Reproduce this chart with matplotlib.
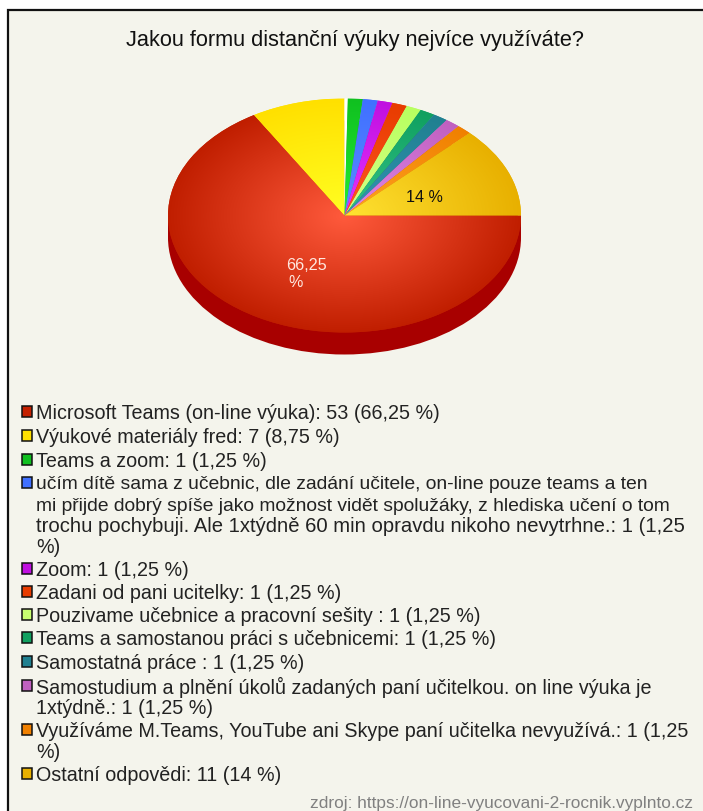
import numpy as np
import matplotlib
matplotlib.use("Agg")
import matplotlib.pyplot as plt
from matplotlib.patches import Wedge, Ellipse, Rectangle
from matplotlib.transforms import Affine2D
from matplotlib.colors import to_rgb

plt.rcParams['font.family'] = ['Liberation Sans', 'DejaVu Sans']

TITLE = "Jakou formu distanční výuky nejvíce využíváte?"
SOURCE = "zdroj: https://on-line-vyucovani-2-rocnik.vyplnto.cz"

# drawn slice shares (%), clockwise from 3 o'clock
slice_names = ["Microsoft Teams", "Výukové materiály", "(mezera)", "Teams a zoom", "učím dítě",
               "Zoom", "Zadani", "Pouzivame", "Teams a samostanou", "Samostatná",
               "Samostudium", "Využíváme", "Ostatní"]
slice_shares = [66.44, 8.56, 0.3, 1.36, 1.36, 1.36, 1.36, 1.36, 1.36, 1.36, 1.36, 1.36, 12.46]
slice_centre = ["#ff5a3c", "#ffff22", "#ffffff", "#22ee33", "#5a8cff", "#e633ff", "#ff5522",
                "#d6ff88", "#33c488", "#3394b4", "#e088e8", "#ffa422", "#ffe232"]
slice_edge = ["#c01e00", "#ffe000", "#ffffff", "#10c020", "#4070ff", "#c010e0", "#e83c00",
              "#b8ff60", "#10a060", "#208090", "#c060c0", "#f08000", "#e8b000"]

legend_colors = ["#c42000", "#ffe000", "#10c020", "#4070ff", "#c010e0", "#e83c00",
                 "#c8ff70", "#10a060", "#208090", "#c060c0", "#f08000", "#e8b000"]
legend_lines = [
    ["Microsoft Teams (on-line výuka): 53 (66,25 %)"],
    ["Výukové materiály fred: 7 (8,75 %)"],
    ["Teams a zoom: 1 (1,25 %)"],
    ["učím dítě sama z učebnic, dle zadání učitele, on-line pouze teams a ten",
     "mi přijde dobrý spíše jako možnost vidět spolužáky, z hlediska učení o tom",
     "trochu pochybuji. Ale 1xtýdně 60 min opravdu nikoho nevytrhne.: 1 (1,25",
     "%)"],
    ["Zoom: 1 (1,25 %)"],
    ["Zadani od pani ucitelky: 1 (1,25 %)"],
    ["Pouzivame učebnice a pracovní sešity : 1 (1,25 %)"],
    ["Teams a samostanou práci s učebnicemi: 1 (1,25 %)"],
    ["Samostatná práce : 1 (1,25 %)"],
    ["Samostudium a plnění úkolů zadaných paní učitelkou. on line výuka je",
     "1xtýdně.: 1 (1,25 %)"],
    ["Využíváme M.Teams, YouTube ani Skype paní učitelka nevyužívá.: 1 (1,25",
     "%)"],
    ["Ostatní odpovědi: 11 (14 %)"],
]

W, H = 703, 812
BG = "#f4f4ec"
CX, CY, RX, RY, DEPTH = 344.5, 216.5, 176.5, 117, 22
LEG_FS = 14.25
LINE_FS = {"učím": 13.85, "mi p": 13.85, "troc": 14.6}

fig = plt.figure(figsize=(W / 100, H / 100), dpi=100, facecolor="white")
ax = fig.add_axes([0, 0, 1, 1])
ax.set_xlim(0, W)
ax.set_ylim(H, 0)
ax.axis("off")

ax.add_patch(Rectangle((7.5, 10.5), W, H, facecolor=BG, edgecolor="#111111", lw=1.6, zorder=0))

# pie rim
rim = "#a80000"
ax.add_patch(Ellipse((CX, CY + DEPTH), 2 * RX, 2 * RY, facecolor=rim, edgecolor="none", zorder=1))
ax.add_patch(Rectangle((CX - RX, CY), 2 * RX, DEPTH, facecolor=rim, edgecolor="none", zorder=1))

# pie top: y axis points down, so positive angles run clockwise on screen
unit = Affine2D().scale(RX, RY).translate(CX, CY) + ax.transData
gx, gy = np.meshgrid(np.linspace(-1, 1, 800), np.linspace(-1, 1, 600))
radius = np.clip(np.hypot(gx, gy), 0, 1)[..., None]
start = 0.0
for share, c0, c1 in zip(slice_shares, slice_centre, slice_edge):
    sweep = share * 3.6
    wedge = Wedge((0, 0), 1, start, start + sweep, transform=unit,
                  facecolor=c1, edgecolor="none", zorder=2)
    ax.add_patch(wedge)
    rgb = np.array(to_rgb(c0)) * (1 - radius) + np.array(to_rgb(c1)) * radius
    im = ax.imshow(rgb, extent=(CX - RX, CX + RX, CY + RY, CY - RY), origin="upper",
                   aspect="auto", zorder=3, interpolation="bilinear")
    im.set_clip_path(wedge)
    start += sweep
ax.set_xlim(0, W)
ax.set_ylim(H, 0)

ax.text(286, 266, "66,25", color="#ffe8e0", fontsize=11.6, va="center", ha="left", zorder=5)
ax.text(288, 283, "%", color="#ffe8e0", fontsize=11.6, va="center", ha="left", zorder=5)
ax.text(424, 198, "14 %", color="#111111", fontsize=11.6, va="center", ha="center", zorder=5)

ax.text(354.5, 40.5, TITLE, fontsize=15.65, color="#111111", ha="center", va="center")

# legend
legend_y = [[412], [436], [460], [483, 505, 525, 546], [569], [592], [615], [638], [662],
            [686, 707], [730, 751], [774]]
for color, lines, ys in zip(legend_colors, legend_lines, legend_y):
    ax.add_patch(Rectangle((21.5, ys[0] - 5), 10.5, 10.5, facecolor=color,
                           edgecolor="#111111", lw=1.1, zorder=4))
    for line, y in zip(lines, ys):
        ax.text(36, y + 1.5, line, fontsize=LINE_FS.get(line[:4], LEG_FS), color="#222222",
                ha="left", va="center")

ax.text(693, 804, SOURCE, fontsize=12.45, color="#808080", ha="right", va="center")

fig.savefig("out.png", dpi=100, facecolor="white")
